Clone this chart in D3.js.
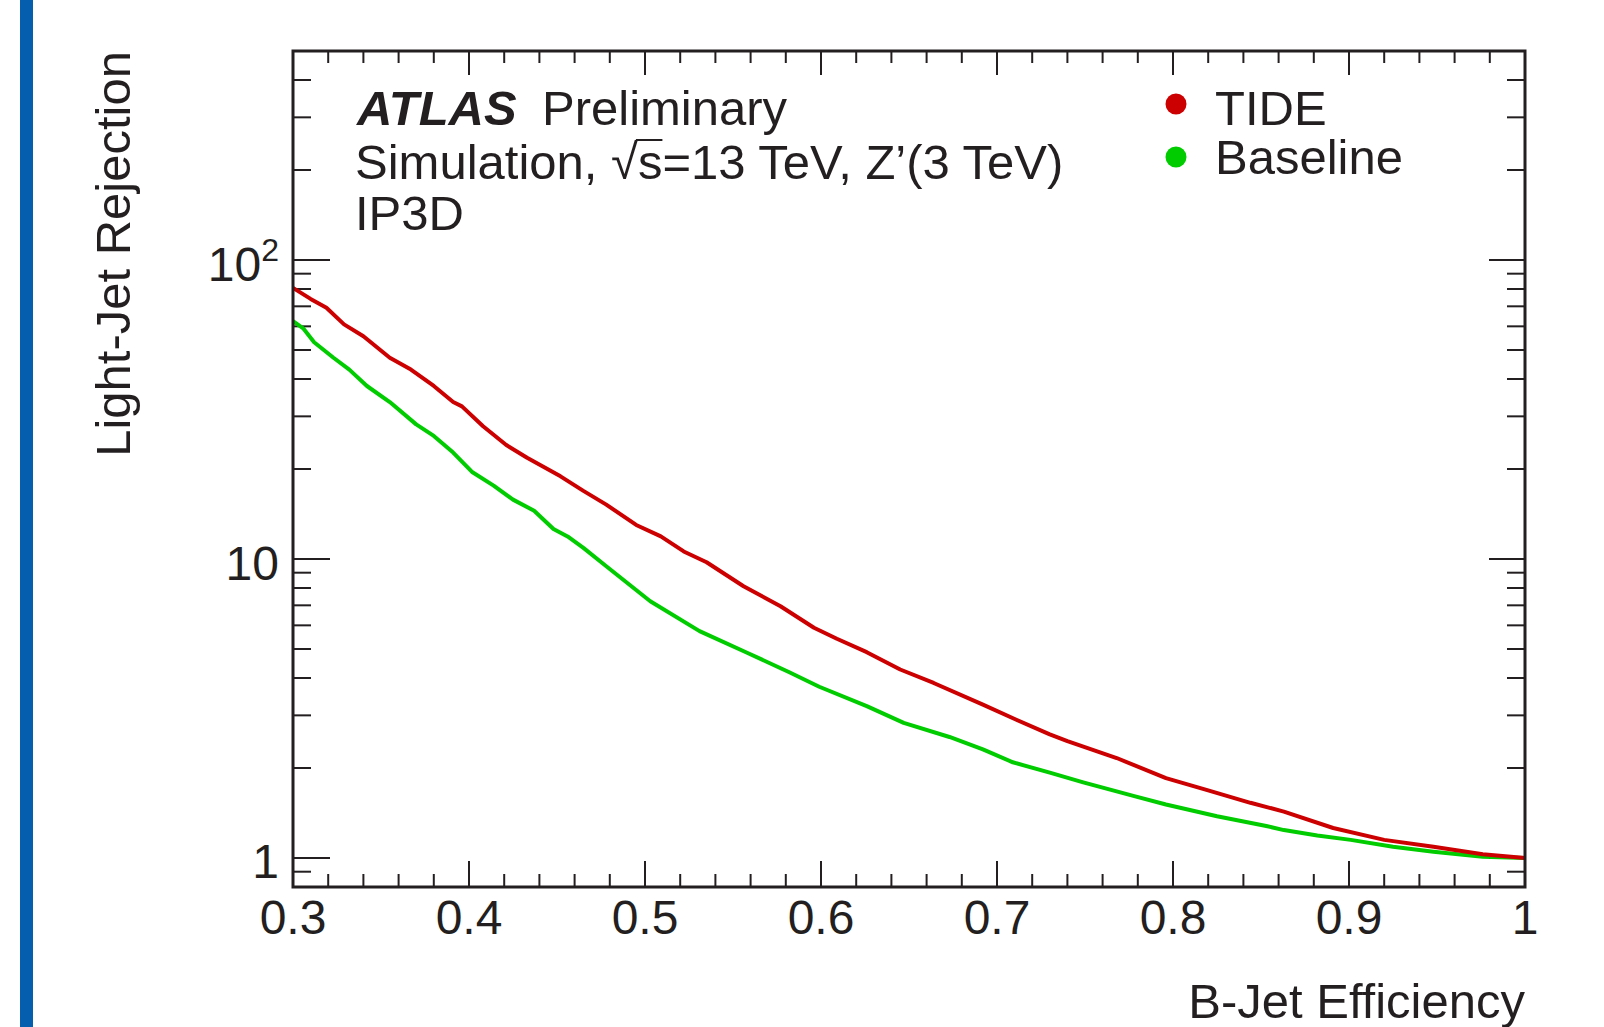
<!DOCTYPE html>
<html>
<head>
<meta charset="utf-8">
<script src="https://cdn.jsdelivr.net/npm/d3@7"></script>
<style>
    body { margin: 0; background: #fff; }
    text { font-family: "Liberation Sans", Arial, Helvetica, sans-serif; fill: #231f20; }
</style>
</head>
<body>
<div id="chart"></div>
<script>
// data (b-jet efficiency vs light-jet rejection)
var tideEff = [0.300, 0.310, 0.319, 0.329, 0.340, 0.355, 0.367, 0.380, 0.391, 0.396,
    0.408, 0.421, 0.433, 0.452, 0.465, 0.478, 0.495, 0.509, 0.522, 0.535,
    0.556, 0.577, 0.596, 0.609, 0.626, 0.645, 0.664, 0.692, 0.711, 0.730,
    0.740, 0.768, 0.796, 0.819, 0.844, 0.863, 0.891, 0.920, 0.948, 0.976, 1.000];
var tideRej = [80.7, 74.1, 69.2, 60.9, 55.6, 47.1, 43.0, 37.9, 33.5, 32.4,
    27.8, 24.1, 21.8, 18.9, 16.9, 15.2, 13.0, 11.9, 10.6, 9.75,
    8.11, 6.95, 5.89, 5.41, 4.88, 4.27, 3.85, 3.26, 2.90, 2.59,
    2.46, 2.16, 1.85, 1.69, 1.53, 1.43, 1.26, 1.15, 1.09, 1.03, 1.00];

var baseEff = [0.300, 0.306, 0.312, 0.323, 0.332, 0.342, 0.355, 0.370, 0.380, 0.391,
    0.402, 0.414, 0.425, 0.437, 0.448, 0.456, 0.465, 0.478, 0.503, 0.531,
    0.558, 0.582, 0.599, 0.626, 0.647, 0.673, 0.692, 0.709, 0.730, 0.749,
    0.778, 0.796, 0.825, 0.853, 0.863, 0.882, 0.901, 0.925, 0.948, 0.976, 1.000];
var baseRej = [62.4, 58.9, 53.1, 47.1, 43.0, 37.9, 33.5, 28.2, 25.8, 22.7,
    19.5, 17.6, 15.8, 14.5, 12.6, 11.9, 10.9, 9.46, 7.22, 5.74,
    4.86, 4.18, 3.74, 3.22, 2.83, 2.54, 2.31, 2.09, 1.93, 1.79,
    1.61, 1.51, 1.38, 1.28, 1.24, 1.19, 1.15, 1.09, 1.05, 1.01, 1.00];

var seriesNames = ["TIDE", "Baseline"];
var seriesColors = ["#cc0000", "#00cc00"];

var xMajorTicks = [0.3, 0.4, 0.5, 0.6, 0.7, 0.8, 0.9, 1.0];
var xTickLabels = ["0.3", "0.4", "0.5", "0.6", "0.7", "0.8", "0.9", "1"];
var yMajorTicks = [1, 10, 100];

var svgWidth = 1604;
var svgHeight = 1027;

// frame of the pad
var frame = { left: 293, right: 1525, top: 51, bottom: 887 };
var ink = "#231f20";

var svg = d3.select("#chart")
    .append("svg")
    .attr("width", svgWidth)
    .attr("height", svgHeight);

svg.append("rect")
    .attr("width", svgWidth)
    .attr("height", svgHeight)
    .attr("fill", "#fff");

// blue strip on the left edge
svg.append("rect")
    .attr("x", 20)
    .attr("y", 0)
    .attr("width", 13)
    .attr("height", svgHeight)
    .attr("fill", "#065fae");

var xScale = d3.scaleLinear()
    .domain([0.3, 1.0])
    .range([frame.left, frame.right]);

var yScale = d3.scaleLog()
    .domain([0.8, 500])
    .range([frame.bottom, frame.top]);

// minor ticks
var xMinor = d3.range(0, 36).map(d => 0.3 + d * 0.02).filter(d => d <= 1.0001);
var yMinor = [];
[0.1, 1, 10, 100].forEach(function (dec) {
    for (var k = 2; k <= 9; k++) {
        var v = dec * k;
        if (v >= 0.8 && v <= 500 && yMajorTicks.indexOf(v) < 0) yMinor.push(v);
    }
});

var ticks = svg.append("g")
    .attr("stroke", ink)
    .attr("stroke-width", 2);

// bottom and top x ticks
function xTick(v, isMajor) {
    var x = xScale(v);
    ticks.append("line")
        .attr("x1", x).attr("x2", x)
        .attr("y1", frame.bottom).attr("y2", frame.bottom - (isMajor ? 26 : 13));
    ticks.append("line")
        .attr("x1", x).attr("x2", x)
        .attr("y1", frame.top).attr("y2", frame.top + (isMajor ? 24 : 12));
}
xMinor.forEach(v => xTick(v, false));
xMajorTicks.forEach(v => xTick(v, true));

// left and right y ticks
function yTick(v, isMajor) {
    var y = yScale(v);
    ticks.append("line")
        .attr("x1", frame.left).attr("x2", frame.left + (isMajor ? 37 : 18))
        .attr("y1", y).attr("y2", y);
    ticks.append("line")
        .attr("x1", frame.right).attr("x2", frame.right - (isMajor ? 36 : 18))
        .attr("y1", y).attr("y2", y);
}
yMinor.forEach(v => yTick(v, false));
yMajorTicks.forEach(v => yTick(v, true));

// curves
var line = d3.line()
    .x(d => xScale(d[0]))
    .y(d => yScale(d[1]));

var tideData = tideEff.map((e, i) => [e, tideRej[i]]);
var baseData = baseEff.map((e, i) => [e, baseRej[i]]);

svg.append("path")
    .datum(baseData)
    .attr("d", line)
    .attr("fill", "none")
    .attr("stroke", seriesColors[1])
    .attr("stroke-width", 4)
    .attr("stroke-linejoin", "round");

svg.append("path")
    .datum(tideData)
    .attr("d", line)
    .attr("fill", "none")
    .attr("stroke", seriesColors[0])
    .attr("stroke-width", 4)
    .attr("stroke-linejoin", "round");

// frame box
svg.append("rect")
    .attr("x", frame.left)
    .attr("y", frame.top)
    .attr("width", frame.right - frame.left)
    .attr("height", frame.bottom - frame.top)
    .attr("fill", "none")
    .attr("stroke", ink)
    .attr("stroke-width", 3);

// x tick labels
svg.append("g")
    .selectAll("text")
    .data(xMajorTicks)
    .enter()
    .append("text")
    .attr("x", d => xScale(d))
    .attr("y", 934)
    .attr("text-anchor", "middle")
    .attr("font-size", 48)
    .text((d, i) => xTickLabels[i]);

// y tick labels
var yLabels = svg.append("g");
yLabels.append("text")
    .attr("x", 279).attr("y", yScale(1) + 20)
    .attr("text-anchor", "end").attr("font-size", 48)
    .text("1");
yLabels.append("text")
    .attr("x", 279).attr("y", yScale(10) + 21)
    .attr("text-anchor", "end").attr("font-size", 48)
    .text("10");
var hundred = yLabels.append("text")
    .attr("x", 279).attr("y", yScale(100) + 21)
    .attr("text-anchor", "end").attr("font-size", 48);
hundred.append("tspan").text("10");
hundred.append("tspan").attr("dy", -20).attr("font-size", 32).text("2");

// axis titles
svg.append("text")
    .attr("x", frame.right)
    .attr("y", 1018)
    .attr("text-anchor", "end")
    .attr("font-size", 49)
    .text("B-Jet Efficiency");

svg.append("text")
    .attr("transform", `translate(130, ${frame.top}) rotate(-90)`)
    .attr("text-anchor", "end")
    .attr("font-size", 49)
    .text("Light-Jet Rejection");

// ATLAS label block
svg.append("text")
    .attr("x", 357).attr("y", 125)
    .attr("font-size", 49)
    .attr("font-weight", "bold")
    .attr("font-style", "italic")
    .text("ATLAS");
svg.append("text")
    .attr("x", 542).attr("y", 125)
    .attr("font-size", 49)
    .text("Preliminary");

var simText = "Simulation, \u221As=13 TeV, Z\u2019(3 TeV)";
var sim = svg.append("text")
    .attr("x", 355).attr("y", 179)
    .attr("font-size", 49)
    .text(simText);

// bar over the "s" of the square root
var sIndex = simText.indexOf("\u221A") + 1;
var sBox = sim.node().getExtentOfChar(sIndex);
svg.append("line")
    .attr("x1", sBox.x - 2)
    .attr("x2", sBox.x + sBox.width)
    .attr("y1", 179 - 39)
    .attr("y2", 179 - 39)
    .attr("stroke", ink)
    .attr("stroke-width", 2);

svg.append("text")
    .attr("x", 355).attr("y", 230)
    .attr("font-size", 49)
    .text("IP3D");

// legend
var legendY = [104, 157];
var legendTextY = [125, 174];
seriesNames.forEach(function (name, i) {
    svg.append("circle")
        .attr("cx", 1176)
        .attr("cy", legendY[i])
        .attr("r", 10.5)
        .attr("fill", seriesColors[i]);
    svg.append("text")
        .attr("x", 1215)
        .attr("y", legendTextY[i])
        .attr("font-size", 49)
        .text(name);
});
</script>
</body>
</html>
